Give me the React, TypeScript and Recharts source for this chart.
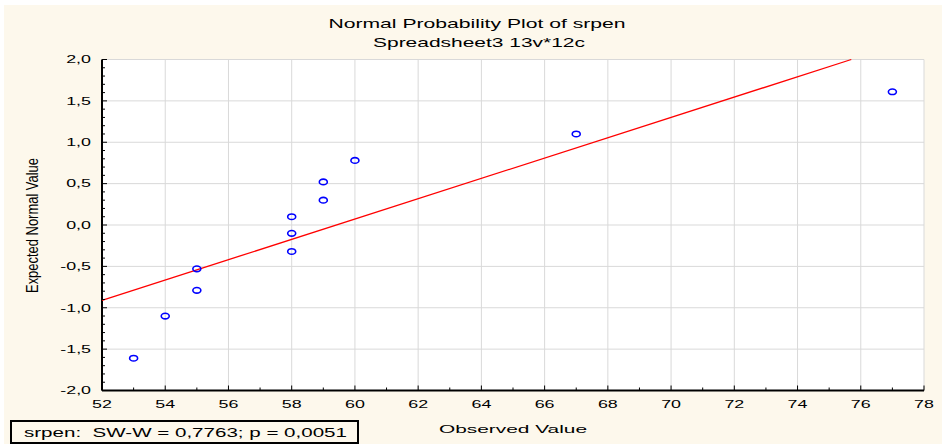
import React from "react";
import { ScatterChart, Scatter, XAxis, YAxis, CartesianGrid } from "recharts";

// values
const observed = [53, 54, 55, 55, 58, 58, 58, 59, 59, 60, 67, 77];
const expectedNormal = [-1.61, -1.1, -0.79, -0.53, -0.32, -0.1, 0.1, 0.3, 0.52, 0.78, 1.1, 1.61];

// fitted reference line (end points)
const fitX = [52, 75.7];
const fitY = [-0.91, 2.0];

const xTicks = [52, 53, 54, 55, 56, 57, 58, 59, 60, 61, 62, 63, 64, 65, 66, 67, 68, 69, 70, 71, 72, 73, 74, 75, 76, 77, 78];
const xGrid = [52, 54, 56, 58, 60, 62, 64, 66, 68, 70, 72, 74, 76, 78];
const yTicks = [
  -2.0, -1.9, -1.8, -1.7, -1.6, -1.5, -1.4, -1.3, -1.2, -1.1, -1.0, -0.9, -0.8, -0.7, -0.6, -0.5, -0.4, -0.3, -0.2, -0.1,
  0.0, 0.1, 0.2, 0.3, 0.4, 0.5, 0.6, 0.7, 0.8, 0.9, 1.0, 1.1, 1.2, 1.3, 1.4, 1.5, 1.6, 1.7, 1.8, 1.9, 2.0,
];
const yGrid = [-2.0, -1.5, -1.0, -0.5, 0.0, 0.5, 1.0, 1.5, 2.0];

const title = "Normal Probability Plot of srpen";
const subtitle = "Spreadsheet3 13v*12c";
const xLabel = "Observed Value";
const yLabel = "Expected Normal Value";
const statsText = "srpen:  SW-W = 0,7763; p = 0,0051";

const W = 942;
const H = 444;
const PLOT = { left: 102, top: 59.5, right: 924, bottom: 390.5 };
const CREAM = "#fdf8ec";
const FONT = "'Liberation Sans', Arial, sans-serif";

const points = observed.map((x, i) => ({ x, y: expectedNormal[i] }));
const fitLine = fitX.map((x, i) => ({ x, y: fitY[i] }));

const isMajorX = (v: number) => v % 2 === 0;
const isMajorY = (v: number) => Math.abs(v * 2 - Math.round(v * 2)) < 1e-6;
const fmt = (v: number) => v.toFixed(1).replace(".", ",");

function BottomTick(props: any) {
  const { x, payload } = props;
  const major = isMajorX(payload.value);
  return (
    <g>
      <line x1={x} x2={x} y1={PLOT.bottom} y2={PLOT.bottom - (major ? 5 : 3)} stroke="#000" />
      {major && (
        <text
          transform={`translate(${x},408) scale(1.7,1)`}
          textAnchor="middle"
          fontSize={10.5}
          fontFamily={FONT}
          fill="#000"
        >
          {payload.value}
        </text>
      )}
    </g>
  );
}

function TopTick(props: any) {
  const { x, payload } = props;
  const major = isMajorX(payload.value);
  return <line x1={x} x2={x} y1={PLOT.top} y2={PLOT.top + (major ? 5 : 3)} stroke="#000" />;
}

function LeftTick(props: any) {
  const { y, payload } = props;
  const major = isMajorY(payload.value);
  return (
    <g>
      <line x1={PLOT.left} x2={PLOT.left + (major ? 5 : 3)} y1={y} y2={y} stroke="#000" />
      {major && (
        <text
          transform={`translate(91,${y + 3.8}) scale(1.7,1)`}
          textAnchor="end"
          fontSize={10.5}
          fontFamily={FONT}
          fill="#000"
        >
          {fmt(payload.value)}
        </text>
      )}
    </g>
  );
}

function RightTick(props: any) {
  const { y, payload } = props;
  const major = isMajorY(payload.value);
  return <line x1={PLOT.right} x2={PLOT.right - (major ? 5 : 3)} y1={y} y2={y} stroke="#000" />;
}

function Dot(props: any) {
  const { cx, cy } = props;
  return <ellipse cx={cx} cy={cy} rx={4} ry={2.8} fill="none" stroke="#0000ff" strokeWidth={1.6} />;
}

export default function App() {
  return (
    <div style={{ position: "relative", width: W, height: H, background: "#fff", fontFamily: FONT }}>
      <style>{"body{margin:0}"}</style>
      <div style={{ position: "absolute", left: 4, top: 5, right: 0, bottom: 0, background: CREAM }} />
      <div style={{ position: "absolute", left: 0, top: 0 }}>
        <ScatterChart width={W} height={H} margin={{ top: PLOT.top, right: W - PLOT.right, bottom: 23.5, left: 0 }}>
          <CartesianGrid
            fill="#fff"
            stroke="#d9d9d9"
            verticalValues={xGrid}
            horizontalValues={yGrid}
          />
          <XAxis
            type="number"
            dataKey="x"
            domain={[52, 78]}
            ticks={xTicks}
            interval={0}
            height={30}
            tickLine={false}
            axisLine={{ stroke: "#000", strokeWidth: 2 }}
            tick={BottomTick}
          />
          <XAxis
            xAxisId="top"
            orientation="top"
            type="number"
            domain={[52, 78]}
            ticks={xTicks}
            interval={0}
            height={0}
            tickLine={false}
            axisLine={{ stroke: "#000", strokeWidth: 1 }}
            tick={TopTick}
          />
          <YAxis
            type="number"
            dataKey="y"
            domain={[-2, 2]}
            ticks={yTicks}
            interval={0}
            width={PLOT.left}
            tickLine={false}
            axisLine={{ stroke: "#000", strokeWidth: 2 }}
            tick={LeftTick}
          />
          <YAxis
            yAxisId="right"
            orientation="right"
            type="number"
            domain={[-2, 2]}
            ticks={yTicks}
            interval={0}
            width={0}
            tickLine={false}
            axisLine={{ stroke: "#000", strokeWidth: 2.5 }}
            tick={RightTick}
          />
          <Scatter
            data={fitLine}
            line={{ stroke: "#ff0000", strokeWidth: 1.3 }}
            shape={() => <g />}
            isAnimationActive={false}
          />
          <Scatter data={points} shape={Dot} isAnimationActive={false} />
        </ScatterChart>
      </div>
      <svg
        width={W}
        height={H}
        style={{ position: "absolute", left: 0, top: 0, pointerEvents: "none" }}
        fontFamily={FONT}
      >
        <text x={477} y={28} fontSize={13} textAnchor="middle" textLength={297} lengthAdjust="spacingAndGlyphs">
          {title}
        </text>
        <text x={479} y={46.5} fontSize={13} textAnchor="middle" textLength={212} lengthAdjust="spacingAndGlyphs">
          {subtitle}
        </text>
        <text x={513} y={433} fontSize={11.5} textAnchor="middle" textLength={148} lengthAdjust="spacingAndGlyphs">
          {xLabel}
        </text>
        <text
          transform="translate(37.5,225.5) rotate(-90) scale(1,1.35)"
          fontSize={12}
          textAnchor="middle"
          textLength={135}
          lengthAdjust="spacingAndGlyphs"
        >
          {yLabel}
        </text>
        <rect x={11} y={421} width={347} height={22} fill={CREAM} stroke="#000" strokeWidth={2} />
        <text
          x={24}
          y={437}
          fontSize={13}
          textLength={323}
          lengthAdjust="spacingAndGlyphs"
          style={{ whiteSpace: "pre" }}
        >
          {statsText}
        </text>
      </svg>
    </div>
  );
}
